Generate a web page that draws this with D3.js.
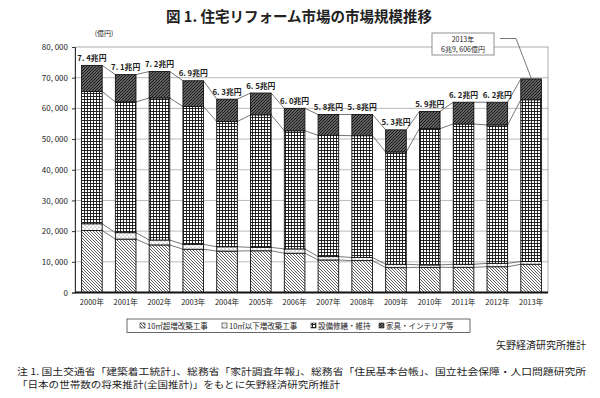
<!DOCTYPE html>
<html lang="ja">
<head>
<meta charset="UTF-8">
<title>住宅リフォーム市場の市場規模推移</title>
<script src="https://d3js.org/d3.v7.min.js"></script>
<style>
  body { margin: 0; background: #fff; }
  svg text { font-family: "Noto Sans CJK JP", sans-serif; fill: #222; }
  .grid line { stroke: #a8a8a8; stroke-width: 0.8; }
  .bar { stroke: #111; stroke-width: 0.9; }
  .sline { stroke: #555; stroke-width: 0.8; fill: none; }
  .ylab text { font-size: 8px; }
  .xlab { font-size: 7.5px; }
  .total { font-size: 7.8px; font-weight: bold; }
</style>
</head>
<body>
<div id="chart"></div>
<script>
// 億円
const years = ["2000年", "2001年", "2002年", "2003年", "2004年", "2005年", "2006年",
               "2007年", "2008年", "2009年", "2010年", "2011年", "2012年", "2013年"];
const over10 = [20200, 17400, 15500, 14100, 13500, 13600, 12800, 10600, 10400, 8100, 8200, 8200, 8400, 9200];
const under10 = [2200, 2100, 1600, 1600, 1400, 1100, 1400, 1100, 1000, 1100, 800, 1000, 1100, 900];
const equip = [43100, 42600, 46300, 44900, 40800, 43200, 38500, 39500, 39700, 36600, 44400, 45700, 45100, 52700];
const furniture = [8500, 8900, 8600, 8400, 7300, 7100, 7300, 6800, 6900, 7200, 5600, 7100, 7400, 6806];
const totalLabels = ["7. 4兆円", "7. 1兆円", "7. 2兆円", "6. 9兆円", "6. 3兆円", "6. 5兆円", "6. 0兆円",
                     "5. 8兆円", "5. 8兆円", "5. 3兆円", "5. 9兆円", "6. 2兆円", "6. 2兆円", ""];
const yTicks = [0, 10000, 20000, 30000, 40000, 50000, 60000, 70000, 80000];
const legendNames = ["10㎡超増改築工事", "10㎡以下増改築工事", "設備修繕・維持", "家具・インテリア等"];

const width = 600, height = 398;
const margin = { left: 75, right: 52, top: 47, bottom: 105 };

const keys = ["over10", "under10", "equip", "furniture"];
const table = years.map((y, i) => ({
  year: y, over10: over10[i], under10: under10[i], equip: equip[i], furniture: furniture[i]
}));
const stacked = d3.stack().keys(keys)(table);

const svg = d3.select("#chart").append("svg")
  .attr("width", width).attr("height", height);

// 模様
const defs = svg.append("defs");
function pat(id, w, fill) {
  const p = defs.append("pattern").attr("id", id)
    .attr("patternUnits", "userSpaceOnUse").attr("width", w).attr("height", w);
  p.append("rect").attr("width", w).attr("height", w).attr("fill", fill);
  return p;
}
pat("p-over10", 3, "#fff").append("path")
  .attr("d", "M0,0L3,3M-1,2L1,4M2,-1L4,1").attr("stroke", "#444").attr("stroke-width", 0.85);
const pu = pat("p-under10", 4, "#fff");
pu.append("circle").attr("cx", 1).attr("cy", 1).attr("r", 0.6).attr("fill", "#666");
pu.append("circle").attr("cx", 3).attr("cy", 3).attr("r", 0.6).attr("fill", "#666");
pat("p-equip", 3, "#fff").append("path")
  .attr("d", "M0,0.5H3M0.5,0V3").attr("stroke", "#111").attr("stroke-width", 0.9);
pat("p-furniture", 3, "#999").append("path")
  .attr("d", "M0,3L3,0M-1,1L1,-1M2,4L4,2").attr("stroke", "#1a1a1a").attr("stroke-width", 1.25);

const x = d3.scaleBand().domain(years)
  .range([margin.left, width - margin.right])
  .paddingInner(0.39).paddingOuter(0.195);
const y = d3.scaleLinear().domain([0, 80000])
  .range([height - margin.bottom - 0.5, margin.top]);
const bw = x.bandwidth();

// タイトル
svg.append("text").attr("x", 299).attr("y", 22).attr("text-anchor", "middle")
  .style("font-size", "14.5px").style("font-weight", "bold")
  .text("図 1. 住宅リフォーム市場の市場規模推移");

// 目盛線
svg.append("g").attr("class", "grid")
  .selectAll("line").data(yTicks.filter(d => d > 0 && d < 80000)).join("line")
  .attr("x1", margin.left).attr("x2", width - margin.right)
  .attr("y1", d => y(d)).attr("y2", d => y(d));

// プロット枠
svg.append("rect")
  .attr("x", margin.left).attr("y", y(80000))
  .attr("width", width - margin.right - margin.left).attr("height", y(0) - y(80000))
  .attr("fill", "none").attr("stroke", "#999").attr("stroke-width", 0.8);

// 区分線
stacked.forEach(s => {
  svg.append("g").selectAll("line").data(s.slice(0, -1)).join("line")
    .attr("class", "sline")
    .attr("x1", (d, i) => x(years[i]) + bw)
    .attr("y1", d => y(d[1]))
    .attr("x2", (d, i) => x(years[i + 1]))
    .attr("y2", (d, i) => y(s[i + 1][1]));
});

// 棒
stacked.forEach(s => {
  svg.append("g").selectAll("rect").data(s).join("rect")
    .attr("class", "bar")
    .attr("fill", `url(#p-${s.key})`)
    .attr("x", d => x(d.data.year))
    .attr("y", d => y(d[1]))
    .attr("width", bw)
    .attr("height", d => y(d[0]) - y(d[1]));
});

// 合計ラベル
const topSeries = stacked[stacked.length - 1];
svg.append("g").selectAll("text").data(topSeries).join("text")
  .attr("class", "total")
  .attr("x", d => x(d.data.year) + bw / 2)
  .attr("y", d => y(d[1]) - 4.5)
  .attr("text-anchor", "middle")
  .text((d, i) => totalLabels[i]);

// 軸
const yAxis = d3.axisLeft(y).tickValues(yTicks).tickSize(3).tickPadding(4)
  .tickFormat(d => d3.format(",")(d).replace(",", ", "));
svg.append("g").attr("class", "ylab")
  .attr("transform", `translate(${margin.left},0)`)
  .call(yAxis)
  .call(g => g.select(".domain").attr("stroke", "#333"))
  .call(g => g.selectAll(".tick line").attr("stroke", "#333"));

svg.append("line")
  .attr("x1", margin.left).attr("x2", width - margin.right)
  .attr("y1", y(0)).attr("y2", y(0))
  .attr("stroke", "#111").attr("stroke-width", 2);

svg.append("g").selectAll("text").data(years).join("text")
  .attr("class", "xlab")
  .attr("x", d => x(d) + bw / 2).attr("y", y(0) + 12)
  .attr("text-anchor", "middle").text(d => d);

svg.append("text").attr("x", 104).attr("y", 36).attr("text-anchor", "middle")
  .style("font-size", "7px").text("(億円)");

// 2013年注記
const last = topSeries[topSeries.length - 1];
const ann = svg.append("g");
ann.append("rect").attr("x", 432).attr("y", 33).attr("width", 62).attr("height", 22)
  .attr("fill", "#fff").attr("stroke", "#777").attr("stroke-width", 0.8);
ann.append("text").attr("x", 463).attr("y", 42).attr("text-anchor", "middle")
  .style("font-size", "7px").text("2013年");
ann.append("text").attr("x", 463).attr("y", 51.5).attr("text-anchor", "middle")
  .style("font-size", "7px").text("6兆9, 606億円");
ann.append("polyline")
  .attr("points", [[500, 38.5], [516, 38.5], [x(last.data.year) + bw / 2, y(last[1]) - 1]].join(" "))
  .attr("fill", "none").attr("stroke", "#555").attr("stroke-width", 0.8);

// 凡例
const lg = svg.append("g");
lg.append("rect").attr("x", 127).attr("y", 319).attr("width", 343).attr("height", 13.5)
  .attr("fill", "#fff").attr("stroke", "#444").attr("stroke-width", 0.8);
const legX = [140, 222, 311, 379];
legendNames.forEach((name, i) => {
  lg.append("rect").attr("x", legX[i]).attr("y", 323).attr("width", 5).attr("height", 5)
    .attr("fill", `url(#p-${keys[i]})`).attr("stroke", "#222").attr("stroke-width", 0.6);
  lg.append("text").attr("x", legX[i] + 7).attr("y", 328.5)
    .style("font-size", "7.5px").text(name);
});

// 出所・注
svg.append("text").attr("x", 586).attr("y", 349).attr("text-anchor", "end")
  .style("font-size", "10px").text("矢野経済研究所推計");
svg.append("text").attr("x", 17).attr("y", 374.5)
  .attr("textLength", 569).attr("lengthAdjust", "spacingAndGlyphs")
  .style("font-size", "9px")
  .text("注 1. 国土交通省「建築着工統計」、総務省「家計調査年報」、総務省「住民基本台帳」、国立社会保障・人口問題研究所");
svg.append("text").attr("x", 17).attr("y", 387.5)
  .attr("textLength", 323).attr("lengthAdjust", "spacingAndGlyphs")
  .style("font-size", "9px")
  .text("「日本の世帯数の将来推計(全国推計)」をもとに矢野経済研究所推計");
</script>
</body>
</html>
